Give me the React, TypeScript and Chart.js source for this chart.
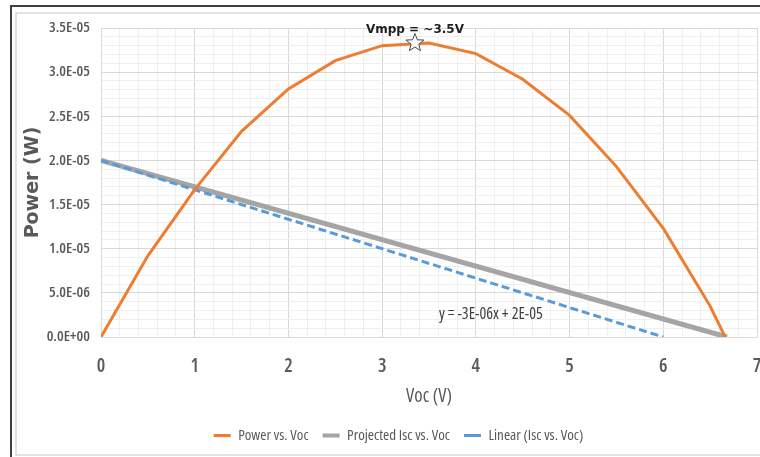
import React, { useEffect, useRef } from 'react';
import { Chart, registerables } from 'chart.js';

Chart.register(...registerables);

// ---- data ----
const vocPower = [0, 0.5, 1, 1.5, 2, 2.5, 3, 3.5, 4, 4.5, 5, 5.5, 6, 6.5, 6.66];
const powerW = [0, 9.2e-6, 1.67e-5, 2.33e-5, 2.81e-5, 3.13e-5, 3.3e-5, 3.33e-5, 3.21e-5, 2.92e-5, 2.51e-5, 1.93e-5, 1.23e-5, 3.5e-6, 0];
const vocProjected = [0, 6.68];
const iscProjected = [2.0e-5, 0];
const vocLinear = [0, 6];
const iscLinear = [2.0e-5, 0];
const xTickLabels = ['0', '1', '2', '3', '4', '5', '6', '7'];
const yTickLabels = ['0.0E+00', '5.0E-06', '1.0E-05', '1.5E-05', '2.0E-05', '2.5E-05', '3.0E-05', '3.5E-05'];
const seriesNames = ['Power vs. Voc', 'Projected Isc vs. Voc', 'Linear (Isc vs. Voc)'];
const vmppPoint = { x: 3.35, y: 3.33e-5 };
const vmppLabel = 'Vmpp = ~3.5V';
const trendLabel = 'y = -3E-06x + 2E-05';
const trendLabelPos = { x: 4.16, y: 2.6e-6 };
const xTitle = 'Voc (V)';
const yTitle = 'Power (W)';

const NARROW = "'Open Sans', Roboto, sans-serif";
const WIDE = "'DejaVu Sans', Verdana, sans-serif";

const toPts = (xs: number[], ys: number[]) => xs.map((x, i) => ({ x, y: ys[i] }));

const isMajorX = (v: number) => Math.abs(v - Math.round(v)) < 1e-6;
const isMajorY = (v: number) => Math.abs(v / 5e-6 - Math.round(v / 5e-6)) < 1e-6;

const framePlugin = {
  id: 'frame',
  afterLayout(chart: any) {
    const lg = chart.legend;
    if (lg) {
      lg.left += 14;
      lg.right += 14;
    }
  },
  beforeDraw(chart: any) {
    const { ctx, width, height } = chart;
    ctx.save();
    ctx.fillStyle = '#ffffff';
    ctx.fillRect(0, 0, width, height);
    ctx.strokeStyle = '#3f3f3f';
    ctx.lineWidth = 2;
    ctx.beginPath();
    ctx.moveTo(11, height);
    ctx.lineTo(11, 6);
    ctx.lineTo(width, 6);
    ctx.stroke();
    ctx.strokeStyle = '#d9d9d9';
    ctx.lineWidth = 1.5;
    ctx.beginPath();
    ctx.moveTo(width, 13);
    ctx.lineTo(16, 13);
    ctx.lineTo(16, 455);
    ctx.lineTo(width, 455);
    ctx.stroke();
    ctx.restore();
  },
};

const annotationPlugin = {
  id: 'annot',
  afterDatasetsDraw(chart: any) {
    const { ctx, scales } = chart;
    const px = scales.x.getPixelForValue(vmppPoint.x);
    const py = scales.y.getPixelForValue(vmppPoint.y);
    ctx.save();
    ctx.font = `bold 12px ${WIDE}`;
    ctx.fillStyle = '#1f1f1f';
    ctx.textAlign = 'center';
    ctx.textBaseline = 'middle';
    ctx.fillText(vmppLabel, px, py - 13);
    const R = 9.5, r = 4;
    ctx.beginPath();
    for (let i = 0; i < 10; i++) {
      const a = -Math.PI / 2 + (i * Math.PI) / 5;
      const rad = i % 2 === 0 ? R : r;
      const xx = px + rad * Math.cos(a);
      const yy = py + rad * Math.sin(a);
      if (i === 0) ctx.moveTo(xx, yy); else ctx.lineTo(xx, yy);
    }
    ctx.closePath();
    ctx.fillStyle = '#ffffff';
    ctx.fill();
    ctx.strokeStyle = '#4a4a4a';
    ctx.lineWidth = 1;
    ctx.stroke();
    const tx = scales.x.getPixelForValue(trendLabelPos.x);
    const ty = scales.y.getPixelForValue(trendLabelPos.y);
    ctx.font = `500 condensed 16px ${NARROW}`;
    ctx.fillStyle = '#404040';
    ctx.fillText(trendLabel, tx, ty);
    ctx.restore();
  },
};

export default function App() {
  const ref = useRef<HTMLCanvasElement | null>(null);

  useEffect(() => {
    if (!ref.current) return;
    const chart = new Chart(ref.current, {
      type: 'line',
      data: {
        datasets: [
          {
            label: seriesNames[0],
            data: toPts(vocPower, powerW),
            borderColor: '#ed7d31',
            backgroundColor: '#ed7d31',
            borderWidth: 3,
            pointRadius: 0,
            tension: 0,
            order: 0,
          },
          {
            label: seriesNames[1],
            data: toPts(vocProjected, iscProjected),
            borderColor: '#a5a5a5',
            backgroundColor: '#a5a5a5',
            borderWidth: 5,
            pointRadius: 0,
            order: 2,
          },
          {
            label: seriesNames[2],
            data: toPts(vocLinear, iscLinear),
            borderColor: '#5b9bd5',
            backgroundColor: '#5b9bd5',
            borderWidth: 3,
            borderDash: [8, 4],
            pointRadius: 0,
            order: 1,
          },
        ],
      },
      options: {
        animation: false,
        responsive: false,
        layout: { padding: { top: 28, right: 3, bottom: 4, left: 12 } },
        plugins: {
          tooltip: { enabled: false },
          legend: {
            position: 'bottom',
            labels: {
              font: { family: NARROW, size: 15, weight: 'condensed' },
              color: '#595959',
              padding: 14,
              usePointStyle: true,
              pointStyleWidth: 17,
              sort: (a: any, b: any) => a.datasetIndex - b.datasetIndex,
              generateLabels: (c: any) => {
                const items = Chart.defaults.plugins.legend.labels.generateLabels(c);
                items.forEach((it: any) => {
                  it.pointStyle = 'line';
                  it.lineWidth = it.datasetIndex === 1 ? 4 : 3;
                });
                return items;
              },
            },
          },
        },
        scales: {
          x: {
            type: 'linear',
            min: 0,
            max: 7,
            ticks: {
              stepSize: 0.2,
              autoSkip: false,
              maxRotation: 0,
              padding: 18,
              color: '#595959',
              font: { family: NARROW, size: 19, weight: '600 condensed' },
              callback: (v: any) => (isMajorX(Number(v)) ? xTickLabels[Math.round(Number(v))] : ''),
            },
            grid: {
              drawTicks: false,
              color: (ctx: any) => (isMajorX(ctx.tick?.value ?? 0) ? '#d9d9d9' : '#efefef'),
              lineWidth: 1,
            },
            border: { display: true, color: '#d9d9d9' },
            title: {
              display: true,
              text: xTitle,
              color: '#595959',
              font: { family: NARROW, size: 19, weight: '500 condensed' },
              padding: { top: 0, bottom: 6 },
            },
            afterFit: (s: any) => {
              s.height = 77;
              s.paddingLeft = 0;
              s.paddingRight = 0;
            },
          },
          y: {
            type: 'linear',
            min: 0,
            max: 3.5e-5,
            ticks: {
              stepSize: 1e-6,
              autoSkip: false,
              padding: 11,
              color: '#595959',
              font: { family: NARROW, size: 15, weight: '600 condensed' },
              callback: (v: any) => (isMajorY(Number(v)) ? yTickLabels[Math.round(Number(v) / 5e-6)] : ''),
            },
            grid: {
              drawTicks: false,
              color: (ctx: any) => (isMajorY(ctx.tick?.value ?? 0) ? '#d9d9d9' : '#efefef'),
              lineWidth: 1,
            },
            border: { display: true, color: '#d9d9d9' },
            title: {
              display: true,
              text: yTitle,
              color: '#595959',
              font: { family: WIDE, size: 19, weight: 'bold' },
              padding: { top: 10, bottom: 0 },
            },
            afterFit: (s: any) => {
              s.width = 89;
              s.paddingTop = 0;
              s.paddingBottom = 0;
            },
          },
        },
      },
      plugins: [framePlugin, annotationPlugin],
    } as any);
    return () => chart.destroy();
  }, []);

  return (
    <div style={{ position: 'absolute', left: 0, top: 0, width: 760, height: 457 }}>
      <canvas ref={ref} width={760} height={457} style={{ display: 'block' }} />
    </div>
  );
}
